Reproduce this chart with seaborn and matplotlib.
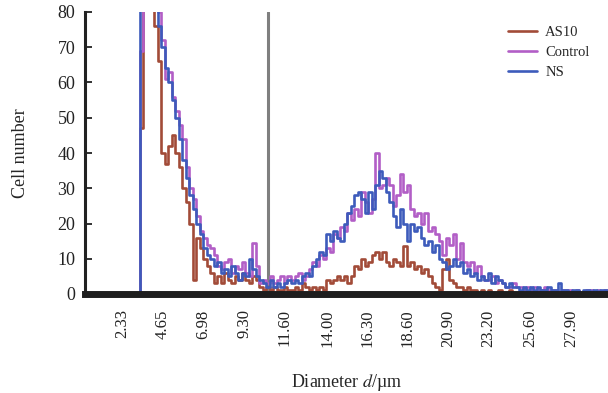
import numpy as np
import pandas as pd
import matplotlib
matplotlib.use("Agg")
import matplotlib.pyplot as plt
import seaborn as sns

# histogram bins: first left edge and width (um)
bin_start = 3.35
bin_width = 0.2

# cell counts per bin (values above 80 are clipped by the axis)
as10 = [47, 100, 110, 90, 76, 66, 40, 37, 42, 45, 40, 36, 30, 26, 20, 4, 16, 13, 10, 8,
        6, 3, 5, 3, 6, 4, 3, 5, 4, 6, 4, 3, 5, 4, 2, 1, 2, 1, 2, 1,
        1, 2, 1, 1, 2, 1, 3, 2, 1, 2, 1, 2, 1, 4, 3, 4, 5, 4, 5, 3,
        5, 8, 7, 10, 8, 9, 11, 12, 10, 12, 9, 8, 10, 9, 8, 13.6, 8, 9, 7, 8,
        6, 7, 5, 3, 2, 1, 7, 10, 4, 3, 2, 2, 1, 2, 1, 1, 0, 1, 0, 1,
        0, 0, 1, 0, 0, 1, 0, 0, 0, 1, 0, 0, 0, 0, 1, 0, 0, 0, 0, 0,
        0, 0, 0, 0, 0, 0, 0, 0, 0, 0, 0, 0, 0, 0]
control = [69, 110, 120, 100, 85, 80, 72, 61, 63, 56, 52, 48, 44, 36, 30, 27, 22, 18, 16, 14,
           13, 11, 8, 7, 9, 10, 6, 8, 7, 9, 6, 5, 14.5, 8, 3, 4, 3, 5, 3, 4,
           5, 3, 5, 4, 5, 6, 4, 5, 7, 9, 8, 11, 10, 13, 12, 17, 16, 19, 18, 23,
           21, 24, 22, 29, 26, 23, 27, 40, 30, 31, 33, 31, 25, 28, 34, 29, 31, 24, 22, 23,
           20, 23, 18, 19, 17, 15, 11, 16, 14, 17, 10, 14.5, 9, 8, 9, 6, 8, 5, 4, 4,
           5, 3, 4, 3, 2, 2, 3, 2, 2, 1, 2, 1, 2, 1, 1, 2, 1, 1, 1, 0,
           1, 1, 1, 0, 1, 0, 0, 1, 1, 0, 1, 0, 1, 0]
ns = [95, 120, 110, 95, 82, 76, 70, 64, 60, 55, 50, 44, 38, 33, 28, 24, 20, 17, 13, 11,
      10, 8, 9, 6, 7, 5, 8, 6, 4, 6, 5, 10, 7, 5, 4, 3, 2, 4, 2, 3,
      2, 3, 4, 3, 4, 3, 5, 6, 5, 8, 10, 12, 11, 17, 15, 18, 16, 15, 20, 23,
      25, 28, 29, 27, 23, 29, 24, 31, 35, 33, 29, 26, 22, 19, 24, 20, 15, 20, 18, 19,
      16, 14, 15, 12, 14, 10, 9, 7, 8, 10, 8, 9, 6, 7, 5, 6, 4, 5, 4, 6,
      3, 5, 4, 3, 2, 3, 2, 2, 1, 2, 1, 2, 1, 2, 1, 1, 2, 1, 1, 3,
      1, 1, 0, 1, 1, 0, 1, 1, 0, 1, 0, 1, 1, 0]

groups = ["AS10", "Control", "NS"]
colors = ["#a24b38", "#b25ec6", "#3d5bbb"]
tick_values = [2.33, 4.65, 6.98, 9.30, 11.60, 14.00, 16.30, 18.60, 20.90, 23.20, 25.60, 27.90]
gate = 10.64

rows = []
for name, counts in zip(groups, [as10, control, ns]):
    edges = bin_start + bin_width * np.arange(len(counts) + 1)
    xs = np.concatenate([[edges[0]], edges[:-1], [edges[-1]]])
    ys = [0] + list(counts) + [0]
    for x, y in zip(xs, ys):
        rows.append({"d": x, "n": y, "group": name})
df = pd.DataFrame(rows)

sns.set_theme(style="white")
plt.rcParams["font.family"] = ["Liberation Serif", "DejaVu Serif"]
plt.rcParams["mathtext.fontset"] = "stix"

fig = plt.figure(figsize=(6.08, 3.93), dpi=100)
ax = fig.add_axes([85 / 608, 1 - 294 / 393, 523 / 608, 282 / 393])

sns.lineplot(data=df, x="d", y="n", hue="group", hue_order=groups, palette=colors,
             estimator=None, sort=False, drawstyle="steps-post", linewidth=1.9, ax=ax)
ax.axvline(gate, color="#7f7f7f", linewidth=2.2, zorder=1)

ax.set_xlim(0.22, 30.0)
ax.set_ylim(0, 80)
ax.set_xticks(tick_values)
ax.set_xticklabels([f"{v:.2f}" for v in tick_values], rotation=90)
ax.set_yticks(range(0, 81, 10))
ax.tick_params(axis="x", length=0, pad=11, labelsize=12, colors="#222222")
ax.tick_params(axis="y", direction="in", length=5, width=1.3, pad=7, labelsize=13,
               colors="#222222", left=True)

for s in ["top", "right"]:
    ax.spines[s].set_visible(False)
ax.spines["left"].set_linewidth(2.2)
ax.spines["left"].set_color("#222222")
ax.spines["bottom"].set_linewidth(5)
ax.spines["bottom"].set_color("#1e1e1e")

ax.set_xlabel("Diameter $d$/µm", fontsize=13, labelpad=18)
ax.set_ylabel("Cell number", fontsize=13, labelpad=20)

handles, labels = ax.get_legend_handles_labels()
ax.legend(handles, labels, loc="upper left", bbox_to_anchor=(0.826, 0.949),
          bbox_transform=fig.transFigure, frameon=False, fontsize=10.5,
          labelspacing=0.45, handlelength=2.0, handletextpad=0.55, borderaxespad=0)

fig.savefig("out.png", dpi=100)
plt.close(fig)
